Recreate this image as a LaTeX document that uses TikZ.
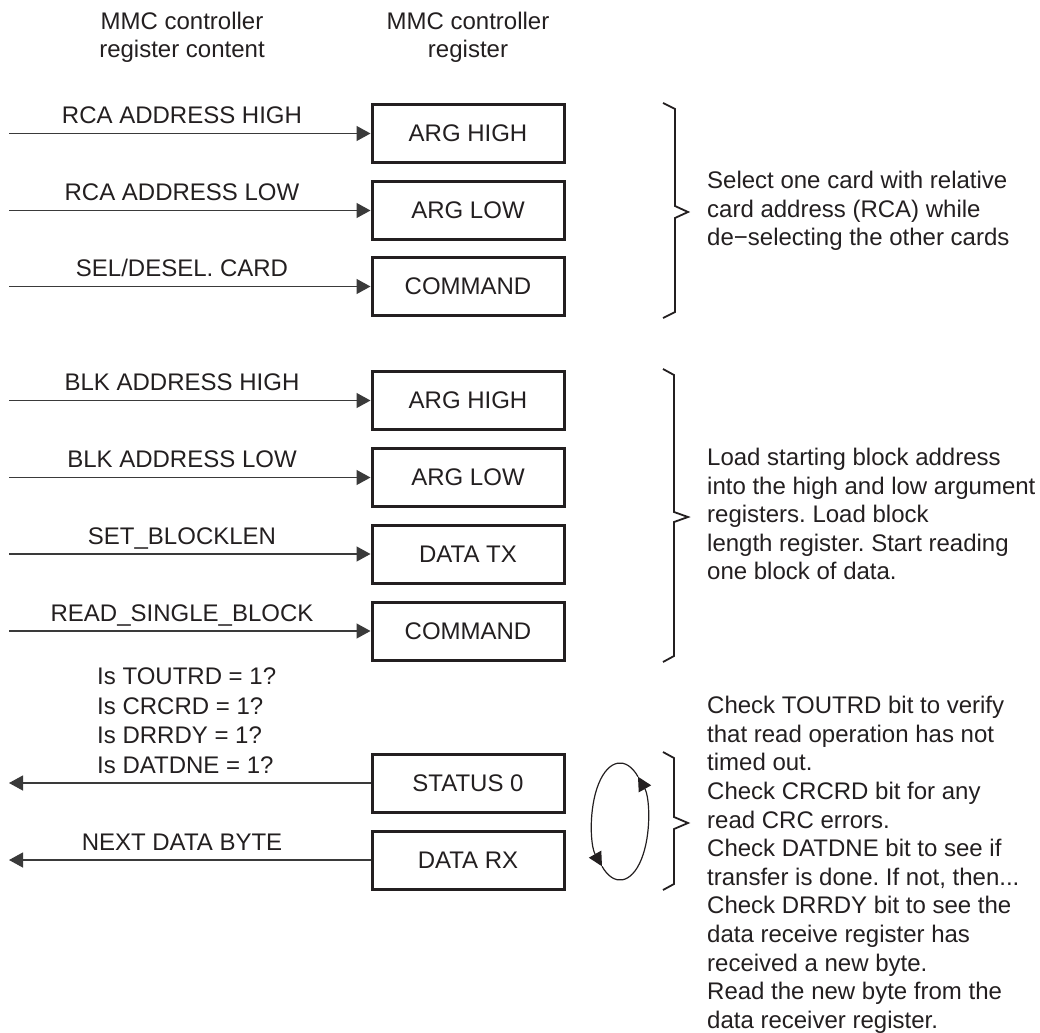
\documentclass[tikz,border=0pt]{standalone}
\usepackage{fontspec}
\setmainfont{Liberation Sans}
\usetikzlibrary{arrows.meta}
\definecolor{ink}{HTML}{231F20}
\definecolor{wire}{HTML}{3A3A3A}
\frenchspacing
\begin{document}
\begin{tikzpicture}[x=1pt,y=-1pt,
  every node/.style={text=ink, font=\fontsize{24}{28.6}\selectfont, inner sep=0pt},
  reg/.style={draw=ink, line width=3pt, minimum width=192pt, minimum height=58pt},
  lbl/.style={anchor=base},
  qlbl/.style={anchor=base west},
  conn/.style={draw=wire, line width=1.3pt, -{Triangle[length=14pt,width=15pt]}},
  loopa/.style={draw=ink, line width=1.2pt, -{Triangle[length=14pt,width=14pt]}},
  brc/.style={draw=ink, line width=1.8pt, line join=miter},
  note/.style={anchor=north west, align=left}
]
\useasboundingbox (0,0) rectangle (1040,1032);

% headers
\node[lbl] (h1a) at (182,30) {MMC controller};
\node[lbl] (h1b) at (182,58) {register content};
\node[lbl] (h2a) at (468,30) {MMC controller};
\node[lbl] (h2b) at (468,58) {register};

% registers
\node[reg] (ah1) at (468,133.5) {ARG HIGH};
\node[reg] (al1) at (468,210.5) {ARG LOW};
\node[reg] (cm1) at (468,286.5) {COMMAND};
\node[reg] (ah2) at (468,400.5) {ARG HIGH};
\node[reg] (al2) at (468,477.5) {ARG LOW};
\node[reg] (tx2) at (468,554) {DATA TX};
\node[reg] (cm2) at (468,631) {COMMAND};
\node[reg] (st3) at (468,783) {STATUS 0};
\node[reg] (rx3) at (468,860) {DATA RX};

% free ends
\coordinate (s1) at (9,133.5);
\coordinate (s2) at (9,210.5);
\coordinate (s3) at (9,286.5);
\coordinate (s4) at (9,400.5);
\coordinate (s5) at (9,477.5);
\coordinate (s6) at (9,554);
\coordinate (s7) at (9,631);
\coordinate (o1) at (9,783);
\coordinate (o2) at (9,860);

\draw[conn] (s1) -- (ah1.west);
\draw[conn] (s2) -- (al1.west);
\draw[conn] (s3) -- (cm1.west);
\draw[conn] (s4) -- (ah2.west);
\draw[conn] (s5) -- (al2.west);
\draw[conn] (s6) -- (tx2.west);
\draw[conn] (s7) -- (cm2.west);
\draw[conn] (st3.west) -- (o1);
\draw[conn] (rx3.west) -- (o2);

% connector labels
\node[lbl] (t1) at (182,123.5) {RCA ADDRESS HIGH};
\node[lbl] (t2) at (182,200.5) {RCA ADDRESS LOW};
\node[lbl] (t3) at (182,276.5) {SEL/DESEL. CARD};
\node[lbl] (t4) at (182,390.5) {BLK ADDRESS HIGH};
\node[lbl] (t5) at (182,467.5) {BLK ADDRESS LOW};
\node[lbl] (t6) at (182,544) {SET\_BLOCKLEN};
\node[lbl] (t7) at (182,621) {READ\_SINGLE\_BLOCK};
\node[qlbl] (q1) at (97,684.5) {Is TOUTRD = 1?};
\node[qlbl] (q2) at (97,714) {Is CRCRD = 1?};
\node[qlbl] (q3) at (97,743.5) {Is DRRDY = 1?};
\node[qlbl] (q4) at (97,773) {Is DATDNE = 1?};
\node[lbl] (t8) at (182,850) {NEXT DATA BYTE};

% braces
\draw[brc] (663,103) -- (675,109) -- (675,206) -- (688,212) -- (675,218) -- (675,312) -- (663,318);
\draw[brc] (663,369) -- (674,375) -- (674,512) -- (688,517) -- (674,522) -- (674,656) -- (663,662);
\draw[brc] (663,752) -- (674,758) -- (674,817) -- (688,823) -- (674,829) -- (674,884) -- (663,890);

% loop
\coordinate (ec) at (620,821.5);
\draw[loopa] (ec) ++(230:28pt and 58.5pt) arc[start angle=230,end angle=410,x radius=28pt,y radius=58.5pt];
\draw[loopa] (ec) ++(50:28pt and 58.5pt) arc[start angle=50,end angle=230,x radius=28pt,y radius=58.5pt];

% notes
\node[note] (n1) at (707,171) {Select one card with relative\\card address (RCA) while\\de−selecting the other cards};
\node[note] (n2) at (707,448) {Load starting block address\\into the high and low argument\\registers. Load block\\length register. Start reading\\one block of data.};
\node[note] (n3) at (707,696) {Check TOUTRD bit to verify\\that read operation has not\\timed out.\\Check CRCRD bit for any\\read CRC errors.\\Check DATDNE bit to see if\\transfer is done. If not, then...\\Check DRRDY bit to see the\\data receive register has\\received a new byte.\\Read the new byte from the\\data receiver register.};
\end{tikzpicture}
\end{document}
